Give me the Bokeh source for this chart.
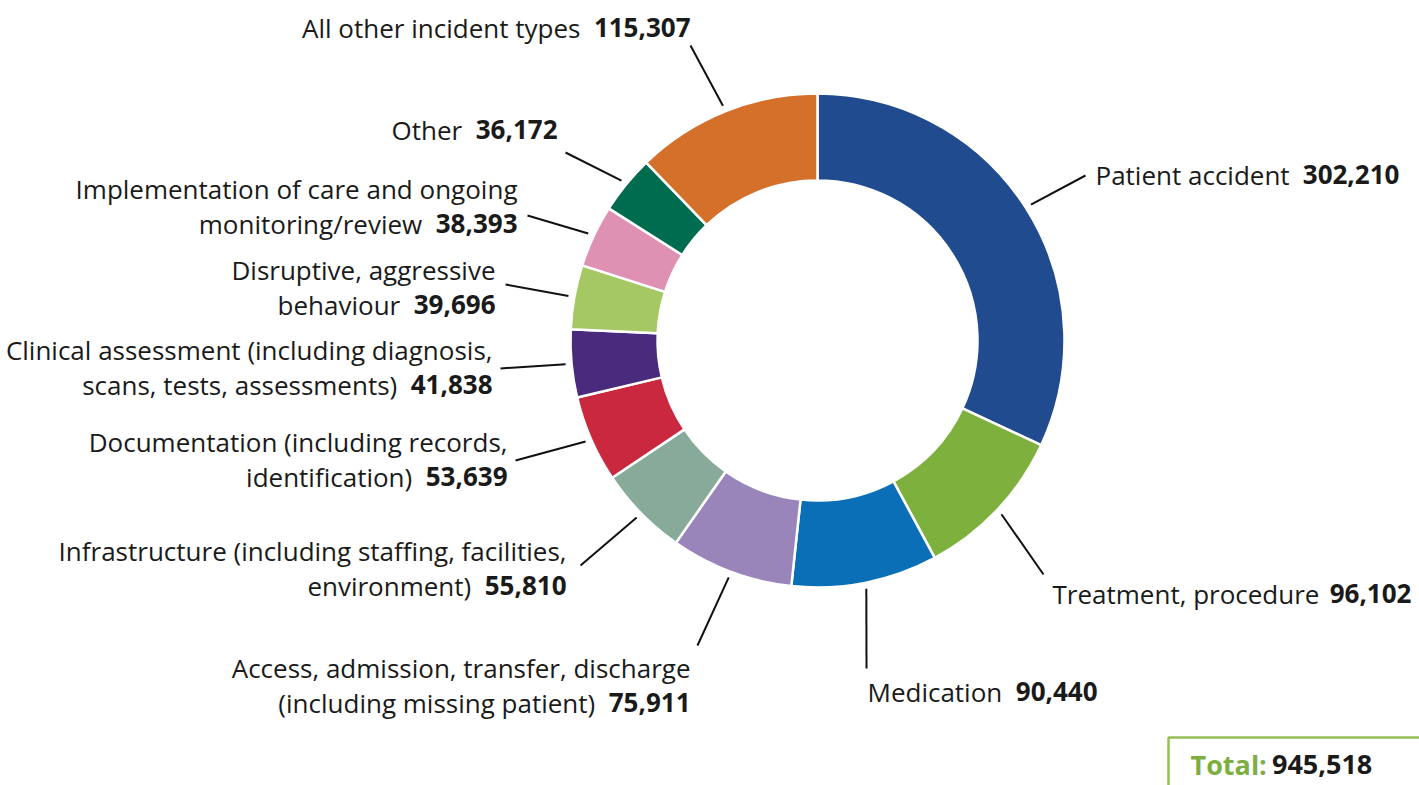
import glob, os, math
from bokeh.plotting import figure
from bokeh.models import Range1d, ColumnDataSource
from bokeh.core.properties import value
from bokeh.embed import file_html
from bokeh.resources import INLINE

# ---------------- data ----------------
categories = [
    "Patient accident",
    "Treatment, procedure",
    "Medication",
    "Access, admission, transfer, discharge (including missing patient)",
    "Infrastructure (including staffing, facilities, environment)",
    "Documentation (including records, identification)",
    "Clinical assessment (including diagnosis, scans, tests, assessments)",
    "Disruptive, aggressive behaviour",
    "Implementation of care and ongoing monitoring/review",
    "Other",
    "All other incident types",
]
values = [302210, 96102, 90440, 75911, 55810, 53639, 41838, 39696, 38393, 36172, 115307]
colors = ["#214B8F", "#7DB03D", "#0B6FB7", "#9985BA", "#88AA9A", "#C9283E",
          "#4A2A7C", "#A5C865", "#DF91B3", "#006C4F", "#D5702A"]

# how each label is broken into lines (layout only)
label_lines = [
    ["Patient accident"],
    ["Treatment, procedure"],
    ["Medication"],
    ["Access, admission, transfer, discharge", "(including missing patient)"],
    ["Infrastructure (including staffing, facilities,", "environment)"],
    ["Documentation (including records,", "identification)"],
    ["Clinical assessment (including diagnosis,", "scans, tests, assessments)"],
    ["Disruptive, aggressive", "behaviour"],
    ["Implementation of care and ongoing", "monitoring/review"],
    ["Other"],
    ["All other incident types"],
]
# label anchor (screen px): x edge, y of first line centre, alignment
label_anchor = [
    (1095, 174, "left"), (1052, 593, "left"), (867, 691, "left"),
    (690, 667, "right"), (566, 550, "right"), (507, 441, "right"),
    (492, 349, "right"), (495, 269, "right"), (517, 188, "right"),
    (557, 129, "right"), (690, 27, "right"),
]
# leader end offset relative to the label anchor (screen px)
leader_off = [
    (-10, 1), (-9, -19), (-1, -23), (7, -22), (14, 15), (8, 19),
    (8, 19), (10, 15), (10, 27), (8, 23), (0, 18),
]

W, H = 1419, 785
CX, CY_S = 817, 340
R_OUT, R_IN = 247, 160
FS = 26
LINE_H = 35
TXT = "#1a1a1a"

# ---------------- font measurement ----------------
def find(names):
    dirs = ["/usr/share/fonts", "/usr/local/share/fonts",
            os.path.expanduser("~/.fonts"), os.path.expanduser("~/.local/share/fonts")]
    for n in names:
        for d in dirs:
            hits = glob.glob(os.path.join(d, "**", n), recursive=True)
            if hits:
                return hits[0]
    return None

FAMILY = "Open Sans"
_fonts = {}
meas_ok = False
try:
    from PIL import ImageFont
    cands = [("Open Sans", ["OpenSans-Regular.ttf"], ["OpenSans-Bold.ttf"]),
             ("Noto Sans", ["NotoSans-Regular.ttf"], ["NotoSans-Bold.ttf"])]
    for fam, rn, bn in cands:
        r, b = find(rn), find(bn)
        if r and b:
            FAMILY = fam
            _fonts["r"], _fonts["b"] = r, b
            meas_ok = True
            break
except Exception:
    meas_ok = False

def meas(s, size, bold=False):
    if meas_ok:
        f = ImageFont.truetype(_fonts["b" if bold else "r"], size)
        return f.getlength(s)
    if bold:
        return sum(0.6 if c.isdigit() else 0.3 for c in s) * size
    return sum(0.52 if c.isalpha() else 0.28 for c in s) * size

def Y(sy):
    return H - sy

# ---------------- figure ----------------
p = figure(width=W, height=H, x_range=Range1d(0, W), y_range=Range1d(0, H),
           output_backend="svg", toolbar_location=None, min_border=0,
           x_axis_type=None, y_axis_type=None, outline_line_color=None,
           background_fill_color="white", border_fill_color="white")
p.grid.visible = False

total = sum(values)
starts, ends, mids = [], [], []
cum = 0.0
for v in values:
    a0 = math.pi / 2 - 2 * math.pi * cum / total
    cum += v
    a1 = math.pi / 2 - 2 * math.pi * cum / total
    starts.append(a0); ends.append(a1); mids.append((a0 + a1) / 2)

src = ColumnDataSource(dict(start=starts, end=ends, color=colors, cat=categories, val=values))
p.annular_wedge(x=CX, y=Y(CY_S), inner_radius=R_IN, outer_radius=R_OUT,
                start_angle="start", end_angle="end", direction="clock",
                fill_color="color", line_color="white", line_width=2.5, source=src)

# leaders
xs, ys = [], []
for i, m in enumerate(mids):
    r0 = R_OUT + 6
    x0 = CX + r0 * math.cos(m)
    y0 = Y(CY_S) + r0 * math.sin(m)
    ax, ay, _ = label_anchor[i]
    ox, oy = leader_off[i]
    xs.append([x0, ax + ox]); ys.append([y0, Y(ay + oy)])
p.multi_line(xs=xs, ys=ys, line_color="#111111", line_width=2)

# labels
reg = dict(x=[], y=[], t=[], a=[])
bold = dict(x=[], y=[], t=[], a=[])
gap = meas("  ", FS)
for i, lines in enumerate(label_lines):
    ax, ay, al = label_anchor[i]
    num = f"{values[i]:,}"
    n = len(lines)
    for j, ln in enumerate(lines):
        sy = ay + j * LINE_H
        last = (j == n - 1)
        if al == "right":
            if last:
                bold["x"].append(ax); bold["y"].append(Y(sy)); bold["t"].append(num); bold["a"].append("right")
                reg["x"].append(ax - meas(num, FS, True) - gap); reg["y"].append(Y(sy)); reg["t"].append(ln); reg["a"].append("right")
            else:
                reg["x"].append(ax); reg["y"].append(Y(sy)); reg["t"].append(ln); reg["a"].append("right")
        else:
            reg["x"].append(ax); reg["y"].append(Y(sy)); reg["t"].append(ln); reg["a"].append("left")
            if last:
                bold["x"].append(ax + meas(ln, FS) + gap); bold["y"].append(Y(sy)); bold["t"].append(num); bold["a"].append("left")

p.text(x="x", y="y", text="t", text_align="a", source=ColumnDataSource(reg),
       text_font=value(FAMILY), text_font_size=f"{FS}px", text_baseline="middle",
       text_color=TXT)
p.text(x="x", y="y", text="t", text_align="a", source=ColumnDataSource(bold),
       text_font=value(FAMILY), text_font_size=f"{FS}px", text_baseline="middle",
       text_font_style="bold", text_color=TXT)

# total box
TFS = 27
TY = 764
p.quad(left=[1168], right=[W + 20], top=[Y(737)], bottom=[-20],
       fill_color="white", line_color="#95BE55", line_width=2.5)
p.text(x=[1190], y=[Y(TY)], text=["Total:"], text_font=value(FAMILY),
       text_font_size=f"{TFS}px", text_font_style="bold", text_color="#7DAE3F",
       text_baseline="middle", text_align="left")
p.text(x=[1190 + meas("Total: ", TFS, True)], y=[Y(TY)], text=[f"{total:,}"],
       text_font=value(FAMILY), text_font_size=f"{TFS}px", text_font_style="bold",
       text_color=TXT, text_baseline="middle", text_align="left")

open("out.html", "w").write(file_html(p, INLINE))
